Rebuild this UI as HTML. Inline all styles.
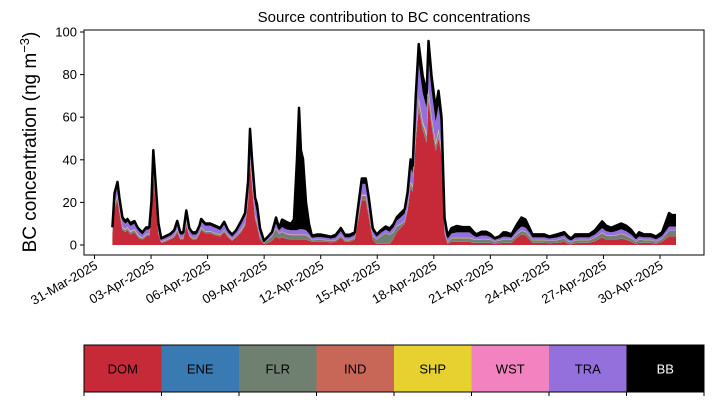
<!DOCTYPE html>
<html><head><meta charset="utf-8"><style>
html,body{margin:0;padding:0;background:#fff;width:714px;height:402px;overflow:hidden}
svg{display:block;font-family:"Liberation Sans","DejaVu Sans",sans-serif}
</style></head><body>
<svg id="chart" width="714" height="402" viewBox="0 0 714 402">
<text x="394" y="22" text-anchor="middle" font-size="15">Source contribution to BC concentrations</text>
<text transform="translate(36,142) rotate(-90)" text-anchor="middle" font-size="19">BC concentration (ng m<tspan dy="-7" font-size="13">−3</tspan><tspan dy="7">)</tspan></text>
<g id="plot"></g>
<g id="legend"></g>
</svg>
<script>
const days=[0.95,1.06,1.22,1.32,1.48,1.64,1.75,1.90,2.12,2.28,2.38,2.54,2.75,2.91,3.02,3.12,3.23,3.39,3.54,3.76,4.02,4.23,4.39,4.55,4.71,4.87,5.03,5.19,5.40,5.56,5.66,5.87,6.14,6.40,6.67,6.88,7.09,7.30,7.51,7.78,7.99,8.15,8.25,8.36,8.52,8.62,8.78,8.99,9.21,9.42,9.63,9.79,9.95,10.16,10.42,10.58,10.74,10.85,10.95,11.06,11.22,11.38,11.53,11.80,12.01,12.28,12.54,12.80,13.07,13.28,13.54,13.81,14.02,14.18,14.39,14.55,14.76,14.97,15.19,15.45,15.66,15.87,16.03,16.24,16.46,16.61,16.77,16.88,17.04,17.20,17.41,17.62,17.72,17.88,18.10,18.25,18.41,18.57,18.73,18.94,19.21,19.52,19.89,20.11,20.26,20.53,20.79,21.01,21.22,21.48,21.69,21.85,22.12,22.43,22.65,22.86,23.07,23.23,23.60,23.86,24.13,24.55,24.92,25.13,25.29,25.50,25.71,26.24,26.56,26.93,27.14,27.41,27.67,27.94,28.20,28.47,28.73,28.89,29.15,29.52,29.79,30.11,30.32,30.48,30.63,30.85];
const dom=[5,17,21,15,7,6,7,5,6,4,3,2.5,4,4,13,33,21,5,1,1.5,2.5,3.5,6,2.5,2.5,9,4,2.5,2.5,5,7,5.5,5.5,4.5,4,6,3.5,2,3.5,6,9,20,38,27,12,9,2.5,.5,1,2,4,3,3.5,3,2.5,2.5,2.5,2.5,2.5,2.5,2.5,2,1.5,1.5,1.5,1.5,1.2,1.5,3.5,1.5,1.5,2.5,13,21,21,13,2.5,.5,.5,.5,.5,3,6,8,10,16,27,25,48,64,54,48,68,56,44,50,42,5,.5,1.5,1.5,1.5,1.5,1,1,1,1,1,.5,.8,1,1,1,3.5,5,4.5,2.5,1,1,1,.8,1,1.5,.5,.3,.8,1,1,1.8,3.5,2.5,2.5,2.5,3,2.5,1.5,.5,1,1,1,.5,1.5,3,4,4,4];
const flr=[.5,1,1,1,.7,.7,.7,.7,.7,.5,.5,.5,.5,.5,.7,1,1,.5,.3,.4,.5,.6,.8,.5,.5,1,.5,.5,.5,.5,.7,.7,.7,.7,.6,.7,.5,.4,.5,.6,.7,1,1.5,1,1,1,1,.5,1.5,2,3.5,2,2.5,2,2,2,2,2,2,2,2,1.5,.7,.8,.8,.7,.6,.7,.8,.7,.7,.7,1,1.5,1.5,1.5,1.5,2,3.5,5,4,3,2.5,1.5,1,1,1.5,1.5,2,2.5,2,2,2.5,2,2,2,1.5,1,.7,1.5,1.5,1.5,1.5,1.5,1.3,1.5,1.5,1.3,1,1.2,1.5,1.5,1.3,1.5,1.5,1.5,1.5,1.2,1.2,1.2,1,1.2,1.5,1,.8,1.2,1.2,1.2,1.5,2,1.8,1.5,1.8,2,1.8,1.5,1,1.5,1.2,1.2,1,1.3,2,2.5,2.5,2.5];
const tra=[1.5,3.5,4,3.5,3,2.5,2.5,2.5,2.5,2,2,1.5,2,2,3.5,6,5,2.5,.8,1,1,1.5,2.5,1.5,1.5,3.5,2,1.5,1.5,2,2.5,2.5,2.5,2.5,2,2.5,1.5,1.2,1.5,2.5,3,5,9,7,5,4,2,.5,.8,1,2,1.5,2,2,2,2,2,2.5,2.5,2.5,2,1.5,1,1.2,1.2,1,1,1.2,1.8,1.2,1.2,1.3,3.5,5,5,4.5,2,1.2,1.5,1.5,1.5,2,2.5,3,3.5,4.5,6.5,6,11,16,13,12,14,12,10,11,9,3.5,1.5,2,2.5,2.5,2.5,1.5,1.2,1.5,1.5,1.2,.7,.9,1.2,1.2,1,1.5,1.8,1.8,1.5,1.2,1.2,1.2,1,1.2,1.3,1,.8,1.2,1.2,1.2,1.5,2,1.8,1.5,1.8,2,1.8,1.5,1,1.3,1.2,1.2,1,1.3,1.5,2,2,2];
const bb=[.5,1.5,2,1.5,1.5,1.2,1.2,1.2,1.2,1,1,1,1,1,2,2.5,2,1.5,.6,.8,.8,1,1.2,1,1,1.5,1,1,1,1,1.2,1,1,1,1,1.3,1,.9,1,1.3,1.5,2.5,4,3,3,4,2,.3,.5,.7,3,1,3.5,3.5,3,5,33,57,37,33,13,4.5,1,1.2,1.2,1,.9,1.2,1.5,1.2,1.2,1.2,2,2.5,2.5,2.5,1.5,1,1.2,1.5,1.5,1.5,1.5,2,2,2.5,4,3.5,6.5,9,8,7,8.5,7,6,7,5.5,2.5,1.5,2.5,3,2.5,2.5,1.8,1.3,1.8,1.8,1.4,.8,1,2,2,1.5,3,4.2,3.8,2.2,1.4,1.4,1.4,1,1.4,1.5,1.3,1,1.6,1.4,1.4,2,3.2,2.6,2.2,2.6,2.7,2.6,2.2,1.3,2,1.4,1.4,1.3,1.7,4.3,6.3,5.3,5.3];
const ene=[.2,.3,.4,.3,.2,.2,.2,.2,.2,.2,.2,.1,.2,.2,.3,.5,.4,.2,.1,.1,.1,.1,.2,.1,.1,.3,.1,.1,.1,.1,.2,.1,.1,.1,.1,.1,.1,.1,.1,.2,.2,.4,.5,.5,.3,.3,.1,.05,.05,.1,.1,.1,.1,.1,.1,.1,.1,.1,.1,.1,.1,.1,.05,.05,.05,.05,.05,.05,.1,.05,.05,.05,.2,.3,.3,.2,.1,.05,.05,.05,.05,.1,.1,.1,.1,.2,.3,.3,.5,.7,.6,.6,.7,.6,.5,.6,.5,.2,.05,.1,.1,.1,.1,.1,.05,.1,.1,.05,.05,.05,.05,.05,.05,.1,.1,.1,.1,.05,.05,.05,.05,.05,.05,.05,.05,.05,.05,.05,.05,.1,.1,.1,.1,.1,.1,.1,.05,.05,.05,.05,.05,.05,.05,.05,.05,.05];
const ind=[.2,.3,.4,.3,.2,.2,.2,.2,.2,.2,.2,.1,.2,.2,.3,.5,.4,.2,.1,.1,.1,.1,.2,.1,.1,.3,.1,.1,.1,.1,.2,.1,.1,.1,.1,.1,.1,.1,.1,.2,.2,.4,.5,.5,.3,.3,.1,.05,.05,.1,.1,.1,.1,.1,.1,.1,.1,.1,.1,.1,.1,.1,.05,.05,.05,.05,.05,.05,.1,.05,.05,.05,.2,.3,.3,.2,.1,.05,.05,.05,.05,.1,.1,.1,.1,.2,.3,.3,.5,.7,.6,.6,.7,.6,.5,.6,.5,.2,.05,.1,.1,.1,.1,.1,.05,.1,.1,.05,.05,.05,.05,.05,.05,.1,.1,.1,.1,.05,.05,.05,.05,.05,.05,.05,.05,.05,.05,.05,.05,.1,.1,.1,.1,.1,.1,.1,.05,.05,.05,.05,.05,.05,.05,.05,.05,.05];
const shp=[.2,.3,.4,.3,.2,.2,.2,.2,.2,.2,.2,.1,.2,.2,.3,.5,.4,.2,.1,.1,.1,.1,.2,.1,.1,.3,.1,.1,.1,.1,.2,.1,.1,.1,.1,.1,.1,.1,.1,.2,.2,.4,.5,.5,.3,.3,.1,.05,.05,.1,.1,.1,.1,.1,.1,.1,.1,.1,.1,.1,.1,.1,.05,.05,.05,.05,.05,.05,.1,.05,.05,.05,.2,.3,.3,.2,.1,.05,.05,.05,.05,.1,.1,.1,.1,.2,.3,.3,.5,.7,.6,.6,.7,.6,.5,.6,.5,.2,.05,.1,.1,.1,.1,.1,.05,.1,.1,.05,.05,.05,.05,.05,.05,.1,.1,.1,.1,.05,.05,.05,.05,.05,.05,.05,.05,.05,.05,.05,.05,.1,.1,.1,.1,.1,.1,.1,.05,.05,.05,.05,.05,.05,.05,.05,.05,.05];
const wst=[.2,.3,.4,.3,.2,.2,.2,.2,.2,.2,.2,.1,.2,.2,.3,.5,.4,.2,.1,.1,.1,.1,.2,.1,.1,.3,.1,.1,.1,.1,.2,.1,.1,.1,.1,.1,.1,.1,.1,.2,.2,.4,.5,.5,.3,.3,.1,.05,.05,.1,.1,.1,.1,.1,.1,.1,.1,.1,.1,.1,.1,.1,.05,.05,.05,.05,.05,.05,.1,.05,.05,.05,.2,.3,.3,.2,.1,.05,.05,.05,.05,.1,.1,.1,.1,.2,.3,.3,.5,.7,.6,.6,.7,.6,.5,.6,.5,.2,.05,.1,.1,.1,.1,.1,.05,.1,.1,.05,.05,.05,.05,.05,.05,.1,.1,.1,.1,.05,.05,.05,.05,.05,.05,.05,.05,.05,.05,.05,.05,.1,.1,.1,.1,.1,.1,.1,.05,.05,.05,.05,.05,.05,.05,.05,.05,.05];
const categories=["DOM","ENE","FLR","IND","SHP","WST","TRA","BB"];
const colors=["#c62a38","#3a7ab3","#6f8070","#c86657","#e6d130","#f383c0","#9370db","#000000"];
const yTicks=[0,20,40,60,80,100];
const xTickDays=[0,3,6,9,12,15,18,21,24,27,30];
const xTickLabels=["31-Mar-2025","03-Apr-2025","06-Apr-2025","09-Apr-2025","12-Apr-2025","15-Apr-2025","18-Apr-2025","21-Apr-2025","24-Apr-2025","27-Apr-2025","30-Apr-2025"];

const NS="http://www.w3.org/2000/svg";
const X0=84,X1=704,Y0=30,Y1=255;
const xs=d=>94.5+d*18.85;
const ys=v=>245-v*2.13;
const plot=document.getElementById('plot');
function mk(tag,attrs,parent){const e=document.createElementNS(NS,tag);for(const k in attrs)e.setAttribute(k,attrs[k]);parent.appendChild(e);return e;}

const series=[dom,ene,flr,ind,shp,wst,tra,bb];
let base=days.map(()=>0);
series.forEach((s,i)=>{
  const top=base.map((b,j)=>b+s[j]);
  let d="M"+days.map((t,j)=>xs(t).toFixed(2)+","+ys(top[j]).toFixed(2)).join("L");
  for(let j=days.length-1;j>=0;j--) d+="L"+xs(days[j]).toFixed(2)+","+ys(base[j]).toFixed(2);
  d+="Z";
  const p=mk('path',{d:d,fill:colors[i],stroke:'none'},plot);
  
  
  base=top;
});
const totLine=mk('path',{d:"M"+days.map((t,j)=>xs(t).toFixed(2)+","+ys(base[j]).toFixed(2)).join("L"),fill:'none',stroke:'#000','stroke-width':2.5,'stroke-linejoin':'round'},plot);



const frame=mk('rect',{x:X0,y:Y0,width:X1-X0,height:Y1-Y0,fill:'none',stroke:'#000','stroke-width':1},plot);



yTicks.forEach(v=>{
  const y=ys(v);
  const tk=mk('line',{x1:X0-4,x2:X0,y1:y,y2:y,stroke:'#000'},plot);
  
  
  const tl=mk('text',{x:X0-7,y:y+4.5,'text-anchor':'end','font-size':13},plot);
  tl.textContent=v;
  
  
});
xTickDays.forEach((d,i)=>{
  const x=xs(d);
  const tk=mk('line',{x1:x,x2:x,y1:Y1,y2:Y1+4,stroke:'#000'},plot);
  
  
  const tl=mk('text',{x:x+4,y:Y1+13,'text-anchor':'end','font-size':13,transform:`rotate(-30 ${x+4} ${Y1+13})`},plot);
  tl.textContent=xTickLabels[i];
  
  
});

const lg=document.getElementById('legend');
const LX=84,LW=620,LY=345,LH=47,bw=LW/categories.length;
categories.forEach((c,i)=>{
  const r=mk('rect',{x:LX+i*bw,y:LY,width:bw+0.3,height:LH,fill:colors[i]},lg);
  
  
  const t=mk('text',{x:LX+i*bw+bw/2,y:LY+LH/2+5,'text-anchor':'middle','font-size':13,fill:c==="BB"?"#fff":"#000"},lg);
  t.textContent=c;
  
  
});
for(let i=0;i<=categories.length;i++){
  const x=LX+i*bw;
  const tk=mk('line',{x1:x,x2:x,y1:LY+LH,y2:LY+LH+4,stroke:'#000'},lg);
  
  
}
const lf=mk('rect',{x:LX,y:LY,width:LW,height:LH,fill:'none',stroke:'#000'},lg);


</script>
</body></html>
